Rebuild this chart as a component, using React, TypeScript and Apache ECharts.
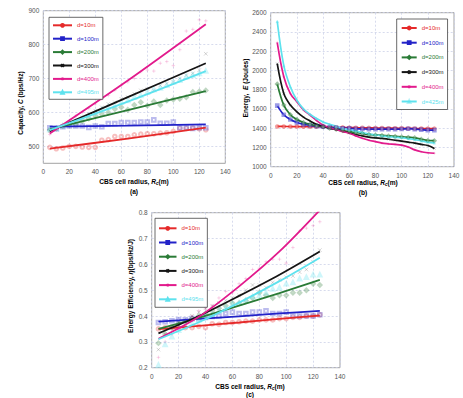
import React, { useEffect, useRef } from 'react';
import * as echarts from 'echarts';

// Cell radius samples (m) used by the simulated points
const RADII = [5, 10, 15, 20, 25, 30, 35, 40, 45, 50, 55, 60, 65, 70, 75, 80, 85, 90, 95, 100, 105, 110, 115, 120, 125];
// Radii at which the fitted curves are given
const CAP_FIT_X = [5, 65, 125];
const EFF_FIT_X = [5, 35, 65, 95, 125];

const NAMES = ['d=10m', 'd=100m', 'd=200m', 'd=300m', 'd=400m', 'd=495m'];
const ENERGY_NAMES = ['d=10m', 'd=100m', 'd=200m', 'd=300m', 'd=400m', 'd=425m'];
const COLORS = ['#e52a2a', '#2222c8', '#2a7b36', '#151515', '#e21a8c', '#5ee2ee'];

const CROSS = 'path://M0 0L10 10M10 0L0 10';
const PLUS = 'path://M5 0L5 10M0 5L10 5';
// hollow markers for data points, solid ones for the legend keys
const MARKERS = ['emptyCircle', 'emptyRect', 'emptyDiamond', CROSS, PLUS, 'emptyTriangle'];
const KEY_MARKERS = ['circle', 'rect', 'diamond', CROSS, PLUS, 'triangle'];

// (a) Capacity (bps/Hz): fitted lines
const capFit10 = [493, 523, 555];
const capFit100 = [558, 561, 565];
const capFit200 = [550, 607, 663];
const capFit300 = [545, 645, 745];
const capFit400 = [538, 694, 860];
const capFit495 = [548, 632, 722];

// (a) Capacity: simulated points
const capSim10 = [497, 493, 495, 500, 500, 498, 497, 497, 518, 520, 529, 529, 529, 534, 536, 537, 537, 539, 540, 544, 553, 553, 554, 552, 549];
const capSim100 = [555, 552, 558, 560, 560, 560, 556, 560, 558, 567, 567, 570, 570, 570, 572, 572, 578, 568, 568, 572, 555, 555, 553, 555, 555];
const capSim200 = [548, 553, 560, 565, 565, 575, 582, 590, 595, 600, 610, 615, 608, 622, 630, 620, 632, 622, 635, 638, 640, 645, 660, 662, 665];
const capSim300 = [545, 550, 558, 568, 575, 585, 595, 605, 615, 625, 630, 640, 645, 655, 665, 670, 665, 680, 685, 690, 700, 710, 715, 725, 773];
const capSim400 = [535, 548, 560, 575, 590, 600, 612, 625, 640, 650, 665, 680, 690, 700, 720, 725, 722, 745, 750, 738, 785, 840, 845, 873, 870];
const capSim495 = [550, 552, 560, 568, 575, 582, 590, 600, 608, 615, 620, 630, 635, 645, 650, 660, 668, 672, 680, 690, 695, 705, 710, 715, 722];

// (b) Energy (Joules)
const energy10 = [1418, 1418, 1417, 1417, 1416, 1416, 1415, 1415, 1413, 1410, 1408, 1406, 1405, 1404, 1403, 1402, 1401, 1400, 1400, 1399, 1398, 1397, 1396, 1395, 1395];
const energy100 = [1635, 1540, 1490, 1460, 1440, 1430, 1420, 1415, 1410, 1405, 1400, 1398, 1395, 1393, 1390, 1390, 1390, 1390, 1390, 1392, 1395, 1390, 1385, 1380, 1380];
const energy200 = [1860, 1640, 1540, 1490, 1460, 1440, 1425, 1415, 1400, 1390, 1375, 1365, 1355, 1345, 1335, 1330, 1325, 1320, 1315, 1310, 1305, 1300, 1285, 1272, 1270];
const energy300 = [2070, 1760, 1640, 1570, 1515, 1475, 1440, 1420, 1400, 1385, 1370, 1350, 1335, 1320, 1308, 1300, 1295, 1285, 1275, 1265, 1255, 1245, 1232, 1220, 1190];
const energy400 = [2290, 1935, 1760, 1675, 1590, 1537, 1480, 1433, 1405, 1385, 1365, 1347, 1320, 1295, 1275, 1260, 1245, 1238, 1232, 1225, 1205, 1175, 1155, 1145, 1140];
const energy425 = [2510, 2050, 1830, 1690, 1600, 1545, 1500, 1465, 1440, 1420, 1400, 1385, 1370, 1355, 1340, 1330, 1320, 1312, 1307, 1302, 1292, 1282, 1268, 1256, 1247];

// (c) Energy efficiency (bps/Hz/J): fitted curves
const effFit10 = [0.349, 0.362, 0.375, 0.389, 0.402];
const effFit100 = [0.378, 0.389, 0.399, 0.41, 0.42];
const effFit200 = [0.35, 0.393, 0.44, 0.489, 0.54];
const effFit300 = [0.333, 0.4, 0.478, 0.56, 0.65];
const effFit400 = [0.312, 0.397, 0.515, 0.65, 0.81];
const effFit495 = [0.31, 0.376, 0.452, 0.535, 0.626];

// (c) Energy efficiency: simulated points
const effSim10 = [0.35, 0.355, 0.355, 0.355, 0.355, 0.355, 0.36, 0.355, 0.37, 0.368, 0.375, 0.375, 0.378, 0.38, 0.38, 0.385, 0.385, 0.385, 0.39, 0.39, 0.395, 0.395, 0.4, 0.4, 0.405];
const effSim100 = [0.375, 0.378, 0.382, 0.385, 0.385, 0.39, 0.39, 0.395, 0.398, 0.4, 0.41, 0.415, 0.41, 0.41, 0.415, 0.415, 0.42, 0.41, 0.41, 0.415, 0.4, 0.4, 0.4, 0.4, 0.405];
const effSim200 = [0.295, 0.33, 0.355, 0.37, 0.38, 0.39, 0.4, 0.41, 0.42, 0.43, 0.44, 0.45, 0.45, 0.46, 0.47, 0.49, 0.48, 0.47, 0.48, 0.48, 0.49, 0.49, 0.5, 0.525, 0.52];
const effSim300 = [0.27, 0.33, 0.36, 0.375, 0.38, 0.4, 0.415, 0.43, 0.44, 0.45, 0.46, 0.47, 0.48, 0.5, 0.52, 0.52, 0.51, 0.53, 0.54, 0.55, 0.555, 0.57, 0.58, 0.61, 0.655];
const effSim400 = [0.24, 0.3, 0.33, 0.36, 0.38, 0.4, 0.42, 0.43, 0.44, 0.47, 0.495, 0.49, 0.525, 0.545, 0.58, 0.585, 0.61, 0.62, 0.62, 0.605, 0.665, 0.73, 0.74, 0.75, 0.765];
const effSim495 = [0.21, 0.29, 0.32, 0.345, 0.36, 0.37, 0.385, 0.4, 0.405, 0.42, 0.43, 0.445, 0.45, 0.46, 0.475, 0.48, 0.49, 0.505, 0.51, 0.525, 0.53, 0.545, 0.55, 0.56, 0.56];

const CAP_FITS = [capFit10, capFit100, capFit200, capFit300, capFit400, capFit495];
const CAP_SIMS = [capSim10, capSim100, capSim200, capSim300, capSim400, capSim495];
const ENERGY = [energy10, energy100, energy200, energy300, energy400, energy425];
const EFF_FITS = [effFit10, effFit100, effFit200, effFit300, effFit400, effFit495];
const EFF_SIMS = [effSim10, effSim100, effSim200, effSim300, effSim400, effSim495];

const CAP_TICKS = [500, 600, 700, 800, 900];

const FONT = 'Liberation Sans';
const GRID_LINE = { show: true, lineStyle: { color: '#cdd2e8', type: [2, 2] as number[], width: 0.8 } };
const LABEL = { color: '#555', fontSize: 6.5, fontFamily: FONT };

const zip = (xs: number[], ys: number[]) => xs.map((x, i) => [x, ys[i]]);

function xAxis(gridIndex: number) {
  return {
    type: 'value', gridIndex, min: 0, max: 140, interval: 20,
    axisLine: { show: false }, axisTick: { show: false },
    axisLabel: { ...LABEL, margin: 5 },
    splitLine: GRID_LINE,
  };
}

function fitLine(name: string, i: number, xs: number[], ys: number[], axis: number) {
  return {
    type: 'line', name, xAxisIndex: axis, yAxisIndex: axis,
    data: zip(xs, ys), smooth: 0.3, symbol: KEY_MARKERS[i], symbolSize: 4, showSymbol: false,
    lineStyle: { color: COLORS[i], width: 1.8 },
    itemStyle: { color: COLORS[i], borderColor: COLORS[i], borderWidth: 0.8 },
    z: 3, silent: true,
  };
}

function simPoints(i: number, ys: number[], axis: number) {
  return {
    type: 'scatter', name: 'sim' + axis + '-' + i, xAxisIndex: axis, yAxisIndex: axis,
    data: zip(RADII, ys), symbol: MARKERS[i], symbolSize: 3.6,
    itemStyle: { color: COLORS[i], borderColor: COLORS[i], borderWidth: 0.6, opacity: 0.3 },
    z: 2, silent: true,
  };
}

function legend(names: string[], left: number, top: number, itemWidth: number, itemGap: number, padding: number[]) {
  return {
    left, top, orient: 'vertical', selectedMode: false,
    backgroundColor: '#fff', borderColor: '#444', borderWidth: 0.8, padding,
    itemWidth, itemHeight: 3.5, itemGap,
    textStyle: { fontSize: 6, fontFamily: FONT },
    data: names.map((name, i) => ({ name, textStyle: { color: COLORS[i] } })),
  };
}

const TITLE_RICH = {
  b: { fontSize: 6.6, fontWeight: 'bold', fontFamily: FONT, color: '#222', lineHeight: 9 },
  i: { fontSize: 6.6, fontWeight: 'bold', fontStyle: 'italic', fontFamily: FONT, color: '#222', lineHeight: 9 },
  s: { fontSize: 4.6, fontWeight: 'bold', fontStyle: 'italic', fontFamily: FONT, color: '#222', lineHeight: 9, verticalAlign: 'bottom' },
};

function title(text: string, x: number, y: number, rotation = 0) {
  return {
    type: 'text', x, y, rotation,
    style: { text, rich: TITLE_RICH, align: 'center', verticalAlign: 'middle' },
  };
}

const X_TITLE = '{b|CBS cell radius, }{i|R}{s|c}{b|(m)}';

export default function App() {
  const ref = useRef<HTMLDivElement>(null);

  useEffect(() => {
    if (!ref.current) return;
    const chart = echarts.init(ref.current, undefined, { renderer: 'svg' });

    const series: any[] = [];
    CAP_FITS.forEach((ys, i) => series.push(fitLine(NAMES[i], i, CAP_FIT_X, ys, 0)));
    ENERGY.forEach((ys, i) => series.push({
      type: 'line', name: ENERGY_NAMES[i], xAxisIndex: 1, yAxisIndex: 1,
      data: zip(RADII, ys), smooth: 0.35, symbol: i === 5 ? KEY_MARKERS[i] : MARKERS[i], symbolSize: 2.6, showSymbol: true,
      lineStyle: { color: COLORS[i], width: 1.7 },
      itemStyle: { color: COLORS[i], borderColor: COLORS[i], borderWidth: 0.5, opacity: 0.45 },
      z: 3, silent: true,
    }));
    EFF_FITS.forEach((ys, i) => series.push(fitLine(NAMES[i], i, EFF_FIT_X, ys, 2)));
    CAP_SIMS.forEach((ys, i) => series.push(simPoints(i, ys, 0)));
    EFF_SIMS.forEach((ys, i) => series.push(simPoints(i, ys, 2)));

    chart.setOption({
      animation: false,
      backgroundColor: '#fff',
      grid: [
        { left: 43.3, right: 237.7, top: 10.7, bottom: 234.7, show: true, borderColor: '#8a8a8a', borderWidth: 0.8 },
        { left: 270.7, right: 9, top: 12.7, bottom: 231.3, show: true, borderColor: '#8a8a8a', borderWidth: 0.8 },
        { left: 151.7, right: 123, top: 212.7, bottom: 30.3, show: true, borderColor: '#8a8a8a', borderWidth: 0.8 },
      ],
      xAxis: [xAxis(0), xAxis(1), xAxis(2)],
      yAxis: [
        {
          type: 'value', gridIndex: 0, min: 450, max: 900, interval: 50,
          axisLine: { show: false },
          axisTick: { show: false, customValues: CAP_TICKS },
          axisLabel: { ...LABEL, margin: 4, customValues: CAP_TICKS },
          splitLine: GRID_LINE,
        },
        {
          type: 'value', gridIndex: 1, min: 1000, max: 2600, interval: 200,
          axisLine: { show: false }, axisTick: { show: false },
          axisLabel: { ...LABEL, margin: 4, formatter: (v: number) => String(v) },
          splitLine: GRID_LINE,
        },
        {
          type: 'value', gridIndex: 2, min: 0.2, max: 0.8, interval: 0.1,
          axisLine: { show: false }, axisTick: { show: false },
          axisLabel: { ...LABEL, margin: 4, formatter: (v: number) => v.toFixed(1) },
          splitLine: GRID_LINE,
        },
      ],
      legend: [
        legend(NAMES, 49, 17.3, 19, 7.4, [5, 4, 4, 3]),
        legend(ENERGY_NAMES, 396.7, 19, 15, 8.7, [6, 4, 5, 4]),
        legend(NAMES, 155, 218.3, 17.5, 8.2, [7, 4, 5, 3]),
      ],
      graphic: [
        title('{b|Capacity, }{i|C}{b| (bps/Hz)}', 20.5, 103, Math.PI / 2),
        title('{b|Energy,  }{i|E}{b| (Joules)}', 245, 88, Math.PI / 2),
        title('{b|Energy Efficiency, }{i|η}{b|(bps/Hz/J)}', 130.5, 286, Math.PI / 2),
        title(X_TITLE, 134, 181),
        title(X_TITLE, 363, 182.5),
        title(X_TITLE, 250, 386.5),
        title('{b|(a)}', 134, 191.5),
        title('{b|(b)}', 363, 192.5),
        title('{b|(c)}', 250, 394.5),
      ],
      series,
    });

    return () => chart.dispose();
  }, []);

  return <div ref={ref} style={{ position: 'absolute', left: 0, top: 0, width: 463, height: 398 }} />;
}
